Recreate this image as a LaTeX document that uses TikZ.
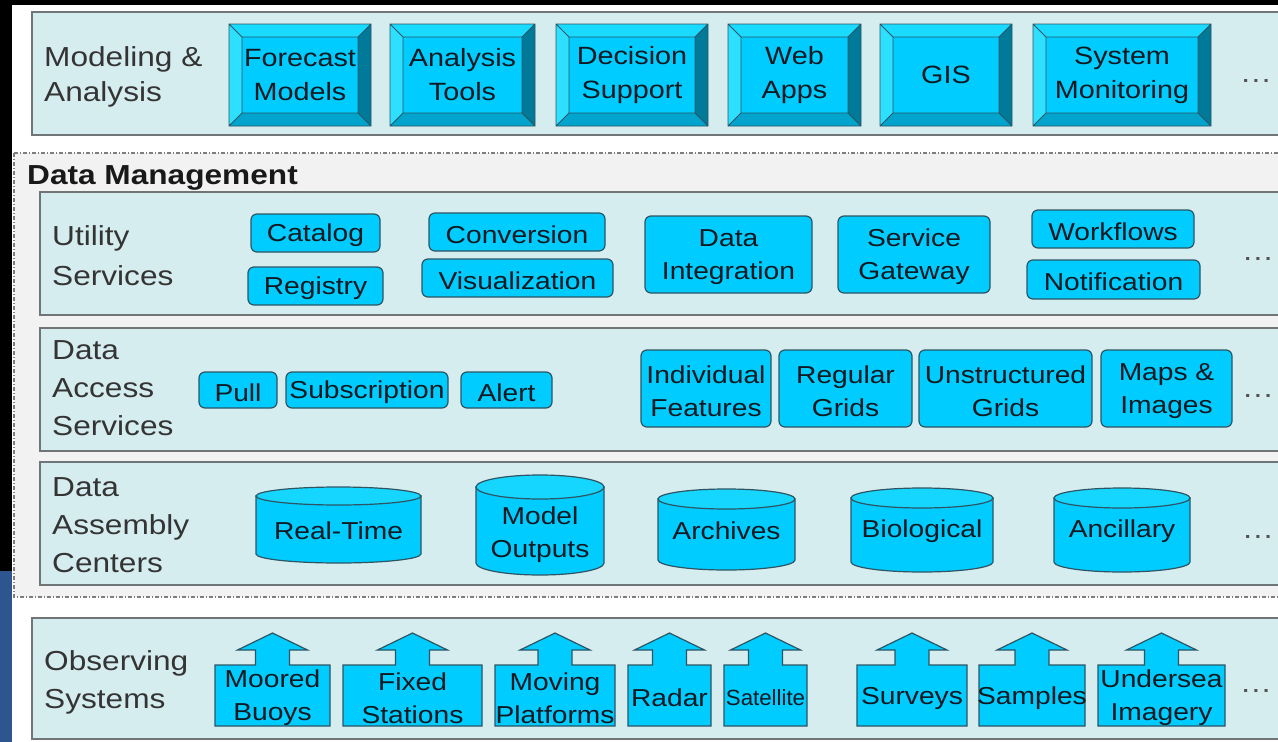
\documentclass[tikz,border=0pt]{standalone}
\usepackage{fontspec}
\usepackage{graphicx}
\setmainfont{Liberation Sans}[FakeStretch=1.15]
\usetikzlibrary{calc}

\definecolor{panelfill}{RGB}{214,237,240}
\definecolor{panelline}{RGB}{112,118,120}
\definecolor{dmfill}{RGB}{242,242,243}
\definecolor{dmline}{RGB}{125,125,125}
\definecolor{cyanfill}{RGB}{0,204,255}
\definecolor{cyanline}{RGB}{45,85,100}
\definecolor{bevtop}{RGB}{25,218,255}
\definecolor{bevleft}{RGB}{45,224,255}
\definecolor{bevright}{RGB}{0,122,152}
\definecolor{bevbottom}{RGB}{0,164,204}
\definecolor{drumtop}{RGB}{20,214,255}
\definecolor{labeltext}{RGB}{52,52,52}
\definecolor{boxtext}{RGB}{16,24,32}
\definecolor{edgeblue}{RGB}{46,86,142}

\newcommand\labelfont{\fontsize{27.5}{38}\selectfont}
\newcommand\boxfont{\fontsize{24.5}{33}\selectfont}

% rounded service box: name, x1, y1, x2, y2, text
\newcommand\pill[6]{%
  \node[pill, minimum width={#4-#2}, minimum height={#5-#3}] (#1)
    at ({(#2+#4)/2},{(#3+#5)/2}) {};
  \node[btntext] (#1-t) at ([yshift=-2.5pt]#1.center) {#6};}

% bevelled application button: name, x1, x2, text
\newcommand\bevelbtn[4]{%
  \fill[bevtop] (#2,24) -- (#3,24) -- ({#3-13},37) -- ({#2+13},37) -- cycle;
  \fill[bevleft] (#2,24) -- ({#2+13},37) -- ({#2+13},113) -- (#2,126) -- cycle;
  \fill[bevright] (#3,24) -- (#3,126) -- ({#3-13},113) -- ({#3-13},37) -- cycle;
  \fill[bevbottom] (#2,126) -- (#3,126) -- ({#3-13},113) -- ({#2+13},113) -- cycle;
  \fill[cyanfill] ({#2+13},37) rectangle ({#3-13},113);
  \draw[bevelline] (#2,24) rectangle (#3,126) ({#2+13},37) rectangle ({#3-13},113)
    (#2,24) -- ({#2+13},37) (#3,24) -- ({#3-13},37)
    (#2,126) -- ({#2+13},113) (#3,126) -- ({#3-13},113);
  \node[btntext, font=\fontsize{25}{34}\selectfont] (#1) at ({(#2+#3)/2},75) {#4};}

% data store drum: name, x1, y1, x2, y2, cap radius, text centre y, text
\newcommand\drum[8]{%
  \filldraw[drumbody] (#2,{#3+#6}) -- (#2,{#5-#6})
    arc[start angle=180, end angle=360, x radius={(#4-#2)/2*1pt}, y radius={#6*1pt}]
    -- (#4,{#3+#6}) -- cycle;
  \filldraw[drumcap] ({(#2+#4)/2},{#3+#6})
    ellipse[x radius={(#4-#2)/2*1pt}, y radius={#6*1pt}];
  \node[btntext] (#1) at ({(#2+#4)/2},#7) {#8};}

% observing system with upward arrow: name, x1, x2, text
\newcommand\obsbox[4]{%
  \filldraw[obsshape] (#2,665) -- ({(#2+#3)/2-17},665) -- ({(#2+#3)/2-17},650)
    -- ({(#2+#3)/2-35},650) -- ({(#2+#3)/2},633) -- ({(#2+#3)/2+35},650)
    -- ({(#2+#3)/2+17},650) -- ({(#2+#3)/2+17},665) -- (#3,665)
    -- (#3,726) -- (#2,726) -- cycle;
  \node[btntext] (#1) at ({(#2+#3)/2},698) {#4};}

\begin{document}
\begin{tikzpicture}[x=1pt, y=-1pt,
  panel/.style={fill=panelfill, draw=panelline, line width=1.6pt},
  dmbox/.style={fill=dmfill, draw=dmline, line width=1.2pt,
    dash pattern=on 4pt off 2pt on 1pt off 2pt},
  pill/.style={rectangle, rounded corners=6pt, fill=cyanfill, draw=cyanline,
    line width=1.2pt, inner sep=0pt},
  btntext/.style={inner sep=0pt, font=\boxfont, text=boxtext, align=center},
  bevelline/.style={draw=cyanline, line width=0.9pt},
  drumbody/.style={fill=cyanfill, draw=cyanline, line width=1.2pt},
  drumcap/.style={fill=drumtop, draw=cyanline, line width=1.2pt},
  obsshape/.style={fill=cyanfill, draw=cyanline, line width=1.2pt},
  sidelabel/.style={anchor=north west, inner sep=0pt, align=left,
    font=\labelfont, text=labeltext},
  more/.style={inner sep=0pt, font=\fontsize{28}{28}\selectfont, text=labeltext!85}]

\clip (0,0) rectangle (1278,742);
\fill[white] (0,0) rectangle (1278,742);
\fill[black] (0,0) rectangle (1278,5);
\fill[black] (0,0) rectangle (12,571);
\fill[edgeblue] (0,571) rectangle (12,742);

% layer panels
\filldraw[dmbox] (14,153) rectangle (1300,597);
\filldraw[panel] (32,12) rectangle (1300,135);
\filldraw[panel] (40,192) rectangle (1300,315);
\filldraw[panel] (40,328) rectangle (1300,451);
\filldraw[panel] (40,462) rectangle (1300,585);
\filldraw[panel] (32,618) rectangle (1300,739);

% layer titles
\node[sidelabel, font=\fontsize{27.5}{35}\selectfont] (lblmodel) at (44,46) {Modeling \&\\Analysis};
\node[anchor=base west, inner sep=0pt, font=\fontsize{27.5}{30}\selectfont\bfseries,
  text=black!90] (lbldm) at (27,184) {Data Management};
\node[sidelabel, font=\fontsize{27.5}{40}\selectfont] (lblutil) at (52,225) {Utility\\Services};
\node[sidelabel] (lblaccess) at (52,340) {Data\\Access\\Services};
\node[sidelabel] (lblassembly) at (52,477) {Data\\Assembly\\Centers};
\node[sidelabel] (lblobs) at (44,650) {Observing\\Systems};

% modeling & analysis
\bevelbtn{fm}{229}{371}{Forecast\\Models}
\bevelbtn{at}{390}{535}{Analysis\\Tools}
\bevelbtn{ds}{556}{708}{Decision\\Support}
\bevelbtn{wa}{728}{861}{Web\\Apps}
\bevelbtn{gis}{880}{1012}{GIS}
\bevelbtn{sm}{1033}{1211}{System\\Monitoring}
\node[more] (moremodel) at (1256,81) {…};

% utility services
\pill{cat}{251}{214}{380}{252}{Catalog}
\pill{reg}{248}{267}{383}{305}{Registry}
\pill{conv}{429}{213}{605}{251}{Conversion}
\pill{vis}{422}{259}{613}{297}{Visualization}
\pill{dint}{645}{216}{812}{293}{Data\\Integration}
\pill{sgw}{838}{216}{990}{293}{Service\\Gateway}
\pill{wfl}{1032}{210}{1194}{248}{Workflows}
\pill{ntf}{1027}{260}{1200}{299}{Notification}
\node[more] (moreutil) at (1258,259) {…};

% data access services
\pill{pull}{199}{372}{277}{408}{Pull}
\pill{subs}{286}{372}{448}{408}{Subscription}
\pill{alrt}{461}{372}{552}{408}{Alert}
\pill{indf}{641}{350}{771}{427}{Individual\\Features}
\pill{regg}{779}{350}{912}{427}{Regular\\Grids}
\pill{unsg}{919}{350}{1092}{427}{Unstructured\\Grids}
\pill{mapi}{1101}{350}{1232}{427}{Maps \&\\Images}
\node[more] (moreaccess) at (1258,396) {…};

% data assembly centers
\drum{rt}{256}{487}{421}{563}{9}{531}{Real-Time}
\drum{mo}{476}{475}{604}{575}{12}{535}{Model\\Outputs}
\drum{arch}{658}{489}{795}{570}{10}{531}{Archives}
\drum{bio}{851}{488}{993}{572}{10}{531}{Biological}
\drum{anc}{1054}{488}{1190}{572}{10}{531}{Ancillary}
\node[more] (moreassembly) at (1258,537) {…};

% observing systems
\obsbox{mb}{215}{330}{Moored\\Buoys}
\obsbox{fs}{343}{482}{Fixed\\Stations}
\obsbox{mp}{495}{615}{Moving\\Platforms}
\obsbox{rad}{628}{711}{Radar}
\obsbox{sat}{724}{807}{\fontsize{22}{33}\selectfont\scalebox{0.88}[1]{Satellite}}
\obsbox{sur}{857}{967}{Surveys}
\obsbox{smp}{979}{1085}{Samples}
\obsbox{uim}{1098}{1225}{Undersea\\Imagery}
\node[more] (moreobs) at (1256,691) {…};

\end{tikzpicture}
\end{document}
